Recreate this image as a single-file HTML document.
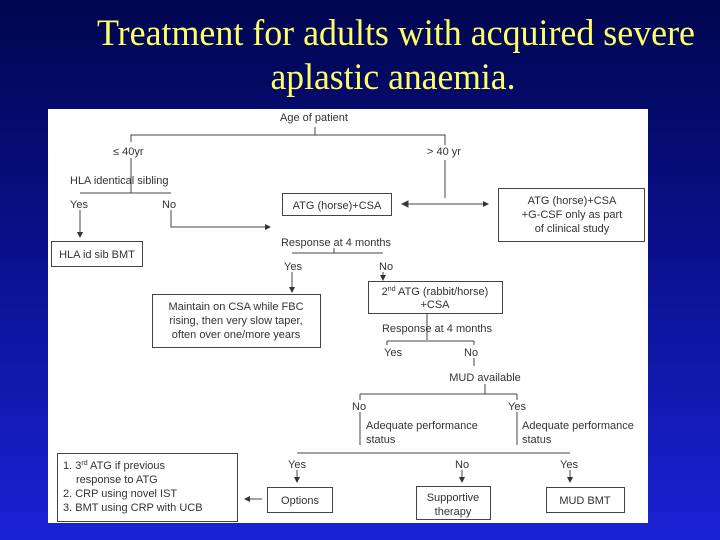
<!DOCTYPE html>
<html><head><meta charset="utf-8"><style>
html,body{margin:0;padding:0;}
body{width:720px;height:540px;overflow:hidden;background:linear-gradient(#00064f 0%,#0a108a 45%,#1a22d6 100%);}
svg{display:block}
.t{font-family:"Liberation Sans",Arial,sans-serif;font-size:11px;fill:#333}
.m{text-anchor:middle}
</style></head><body>
<svg width="720" height="540" xmlns="http://www.w3.org/2000/svg">
<defs><marker id="a" markerWidth="6" markerHeight="6" refX="5" refY="3" orient="auto" markerUnits="userSpaceOnUse"><path d="M0,0 L6,3 L0,6 z" fill="#333"/></marker></defs>
<text x="396" y="45" font-family="Liberation Serif,serif" font-size="37" fill="#ffff66" text-anchor="middle" textLength="598" lengthAdjust="spacingAndGlyphs">Treatment for adults with acquired severe</text>
<text x="393" y="89" font-family="Liberation Serif,serif" font-size="37" fill="#ffff66" text-anchor="middle" textLength="245" lengthAdjust="spacingAndGlyphs">aplastic anaemia.</text>
<rect x="48" y="109" width="600" height="414" fill="#fff"/>
<g stroke="#444" stroke-width="1" fill="none">
<path d="M315 127V135M131 142V135H445V145M131 158V193M80 193H171M445 160V198"/>
<path d="M80 210V237" marker-end="url(#a)"/>
<path d="M171 210V227H270" marker-end="url(#a)"/>
<path d="M402 204H488" marker-end="url(#a)"/>
<path d="M402 204l6 -3v6z" fill="#333"/>
<path d="M334 248V253M292 253H383M292 272V292" />
<path d="M292 286V292" marker-end="url(#a)"/>
<path d="M383 272V280" marker-end="url(#a)"/>
<path d="M427 313V340M387 341H474M387 341V345M474 341V345M474 358V366M485 384V394M360 394H517M360 394V400M517 394V400M360 412V445M517 412V445M297 453H570"/>
<path d="M297 470V482" marker-end="url(#a)"/>
<path d="M462 470V482" marker-end="url(#a)"/>
<path d="M570 470V482" marker-end="url(#a)"/>
<path d="M262 499H245" marker-end="url(#a)"/>
<rect x="51.5" y="241.5" width="91" height="25"/>
<rect x="282.5" y="193.5" width="109" height="22"/>
<rect x="498.5" y="188.5" width="146" height="53"/>
<rect x="152.5" y="294.5" width="168" height="53"/>
<rect x="368.5" y="281.5" width="134" height="32"/>
<rect x="57.5" y="453.5" width="180" height="68"/>
<rect x="267.5" y="487.5" width="65" height="25"/>
<rect x="416.5" y="486.5" width="74" height="33"/>
<rect x="546.5" y="487.5" width="78" height="25"/>
</g>
<g class="t">
<text class="m" x="314" y="121">Age of patient</text>
<text x="113" y="155">≤ 40yr</text>
<text x="427" y="155">&gt; 40 yr</text>
<text x="70" y="184">HLA identical sibling</text>
<text x="70" y="208">Yes</text>
<text x="162" y="208">No</text>
<text class="m" x="97" y="258">HLA id sib BMT</text>
<text class="m" x="337" y="209">ATG (horse)+CSA</text>
<text class="m" x="572" y="204">ATG (horse)+CSA</text>
<text class="m" x="572" y="218">+G-CSF only as part</text>
<text class="m" x="572" y="232">of clinical study</text>
<text class="m" x="336" y="246">Response at 4 months</text>
<text x="284" y="270">Yes</text>
<text x="379" y="270">No</text>
<text class="m" x="236" y="310">Maintain on CSA while FBC</text>
<text class="m" x="236" y="324">rising, then very slow taper,</text>
<text class="m" x="236" y="338">often over one/more years</text>
<text class="m" x="435" y="295">2<tspan font-size="7" dy="-4">nd</tspan><tspan dy="4"> ATG (rabbit/horse)</tspan></text>
<text class="m" x="435" y="308">+CSA</text>
<text class="m" x="437" y="332">Response at 4 months</text>
<text x="384" y="356">Yes</text>
<text x="464" y="356">No</text>
<text class="m" x="485" y="381">MUD available</text>
<text x="352" y="410">No</text>
<text x="508" y="410">Yes</text>
<text x="366" y="429">Adequate performance</text>
<text x="366" y="443">status</text>
<text x="522" y="429">Adequate performance</text>
<text x="522" y="443">status</text>
<text x="288" y="468">Yes</text>
<text x="455" y="468">No</text>
<text x="560" y="468">Yes</text>
<text class="m" x="300" y="504">Options</text>
<text class="m" x="453" y="501">Supportive</text>
<text class="m" x="453" y="515">therapy</text>
<text class="m" x="585" y="504">MUD BMT</text>
<text x="63" y="469">1. 3<tspan font-size="7" dy="-4">rd</tspan><tspan dy="4"> ATG if previous</tspan></text>
<text x="76" y="483">response to ATG</text>
<text x="63" y="497">2. CRP using novel IST</text>
<text x="63" y="511">3. BMT using CRP with UCB</text>
</g>
</svg>
</body></html>
